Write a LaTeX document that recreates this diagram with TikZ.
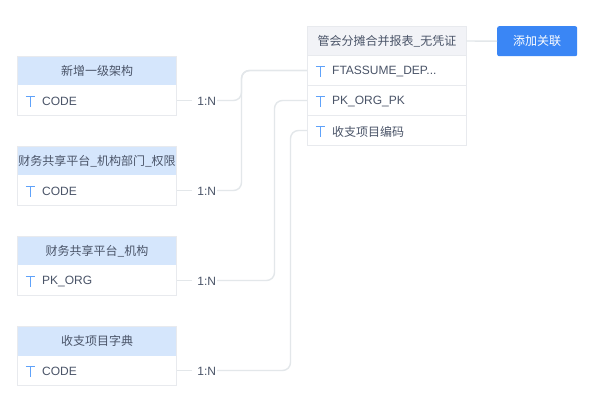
\documentclass[tikz,border=0pt]{standalone}
\usepackage{fontspec}
\setmainfont{Liberation Sans}
\newfontfamily\cjk{Noto Sans CJK SC}
\definecolor{bd}{HTML}{E8EAEE}
\definecolor{hdblue}{HTML}{D5E6FC}
\definecolor{hdgrey}{HTML}{F2F3F7}
\definecolor{btn}{HTML}{3A86F5}
\definecolor{txt}{HTML}{4A5468}
\definecolor{ico}{HTML}{5FA2FA}
\definecolor{lnk}{HTML}{E3E7EA}
\tikzset{
  x=1pt,y=-1pt,
  cell/.style={draw=bd,line width=1pt,minimum width=159pt,minimum height=30pt,inner sep=0pt,outer sep=0pt,anchor=north west,text=txt,font=\fontsize{12}{14}\selectfont},
  headblue/.style={cell,fill=hdblue,draw=none,minimum height=29pt,font=\fontsize{12}{14}\selectfont\cjk},
  rowblank/.style={cell,fill=white,draw=none},
  outline/.style={draw=bd,line width=1pt},
  headgrey/.style={cell,fill=hdgrey,minimum height=29pt,font=\fontsize{12}{14}\selectfont\cjk},
  tlab/.style={inner sep=0pt,anchor=west,text=txt,font=\fontsize{12}{14}\selectfont},
  card/.style={inner sep=0pt,fill=white,text=txt,font=\fontsize{12}{14}\selectfont,minimum width=25pt,minimum height=14pt,execute at begin node={\hspace*{4.4pt}}},
  conn/.style={draw=lnk,line width=1.4pt,rounded corners=8pt},
  ticon/.style={draw=ico,line width=1pt},
  addbtn/.style={fill=btn,rounded corners=2pt,text=white,minimum width=80pt,minimum height=30pt,inner sep=0pt,anchor=north west,font=\fontsize{12}{14}\selectfont\cjk}
}
\newcommand{\rowicon}[2]{\draw[ticon] (#1-4.7,#2-4.7) -- (#1+4.7,#2-4.7) (#1,#2-4.7) -- (#1,#2+6);}
\newcommand{\cardtext}{\raisebox{-5pt}[0pt][0pt]{1:N}}
\begin{document}
\begin{tikzpicture}
\useasboundingbox (0,0) rectangle (610,419);
\fill[white] (0,0) rectangle (610,419);
% connectors first
\coordinate (t1) at (307.5,70.5);
\coordinate (t2) at (307.5,100.5);
\coordinate (t3) at (307.5,130.5);
\coordinate (s1) at (176.5,100.5);
\coordinate (s2) at (176.5,190.5);
\coordinate (s3) at (176.5,280.5);
\coordinate (s4) at (176.5,370.5);
\node[card] (c1) at (204.5,100.5) {\cardtext};
\node[card] (c2) at (204.5,190.5) {\cardtext};
\node[card] (c3) at (204.5,280.5) {\cardtext};
\node[card] (c4) at (204.5,370.5) {\cardtext};
\draw[conn] (s1) -- (c1);
\draw[conn] (s2) -- (c2);
\draw[conn] (s3) -- (c3);
\draw[conn] (s4) -- (c4);
\draw[conn] (c1.east) -- (241.5,100.5) -- (241.5,70.5) -- (t1);
\draw[conn] (c2.east) -- (241.5,190.5) -- (241.5,70.5) -- (t1);
\draw[conn] (c3.east) -- (274.5,280.5) -- (274.5,100.5) -- (t2);
\draw[conn] (c4.east) -- (290.5,370.5) -- (290.5,130.5) -- (t3);
% left tables
\node[headblue] (h1) at (17.5,56.5) {新增一级架构};
\node[rowblank] (r1) at (17.5,85.5) {};
\draw[outline] (h1.north west) rectangle (r1.south east);
\node[tlab] (l1) at (42,101.3) {CODE};
\rowicon{30.5}{101}
\node[headblue] (h2) at (17.5,146.5) {财务共享平台\_机构部门\_权限};
\node[rowblank] (r2) at (17.5,175.5) {};
\draw[outline] (h2.north west) rectangle (r2.south east);
\node[tlab] (l2) at (42,191.3) {CODE};
\rowicon{30.5}{191}
\node[headblue] (h3) at (17.5,236.5) {财务共享平台\_机构};
\node[rowblank] (r3) at (17.5,265.5) {};
\draw[outline] (h3.north west) rectangle (r3.south east);
\node[tlab] (l3) at (42,281.3) {PK\_ORG};
\rowicon{30.5}{281}
\node[headblue] (h4) at (17.5,326.5) {收支项目字典};
\node[rowblank] (r4) at (17.5,355.5) {};
\draw[outline] (h4.north west) rectangle (r4.south east);
\node[tlab] (l4) at (42,371.3) {CODE};
\rowicon{30.5}{371}
% right table
\node[headgrey] (h5) at (307.5,26.5) {管会分摊合并报表\_无凭证};
\node[cell,fill=white] (r5) at (307.5,55.5) {};
\node[cell,fill=white] (r6) at (307.5,85.5) {};
\node[cell,fill=white] (r7) at (307.5,115.5) {};
\node[tlab] (l5) at (332,71.3) {FTASSUME\_DEP...};
\rowicon{320.5}{71}
\node[tlab] (l6) at (332,101.3) {PK\_ORG\_PK};
\rowicon{320.5}{101}
\node[tlab,font=\fontsize{12}{14}\selectfont\cjk] (l7) at (332,131.8) {收支项目编码};
\rowicon{320.5}{131}
\node[addbtn] (b) at (497,26) {添加关联};
\draw[conn] (h5.east) -- (b.west);
\end{tikzpicture}
\end{document}
